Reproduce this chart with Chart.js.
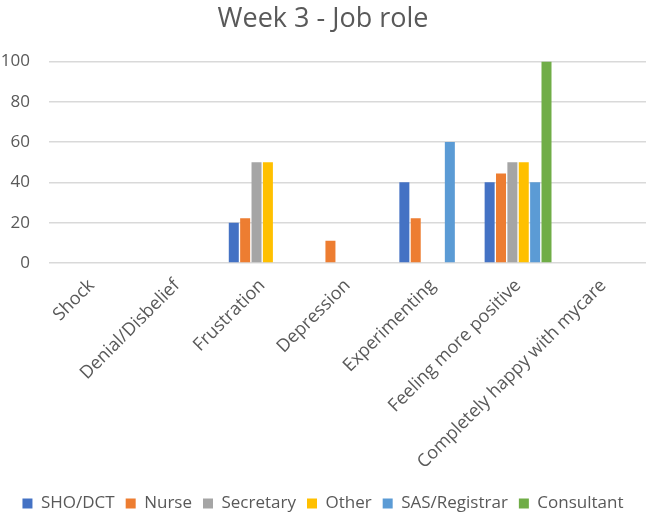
<!DOCTYPE html>
<html>
<head>
<meta charset="utf-8">
<script src="https://cdn.jsdelivr.net/npm/chart.js@4/dist/chart.umd.min.js"></script>
<style>
  html, body { margin: 0; padding: 0; background: #fff; }
  #wrap { width: 646px; height: 515px; }
</style>
</head>
<body>
<div id="wrap"><canvas id="jobChart"></canvas></div>
<script>
const categories = ['Shock', 'Denial/Disbelief', 'Frustration', 'Depression', 'Experimenting', 'Feeling more positive', 'Completely happy with mycare'];
const shoDct     = [null, null, 20,   null, 40,   40,   null];
const nurse      = [null, null, 22.2, 11.1, 22.2, 44.4, null];
const secretary  = [null, null, 50,   null, null, 50,   null];
const other      = [null, null, 50,   null, null, 50,   null];
const sasReg     = [null, null, null, null, 60,   40,   null];
const consultant = [null, null, null, null, null, 100,  null];
const yTicks = [0, 20, 40, 60, 80, 100];

const textColor = '#595959';
const font = 'Open Sans';

function ds(label, data, color) {
    return { label: label, data: data, backgroundColor: color, categoryPercentage: 0.8, barPercentage: 0.88 };
}

const ctx = document.getElementById('jobChart').getContext('2d');
const chart = new Chart(ctx, {
    type: 'bar',
    data: {
        labels: categories,
        datasets: [
            ds('SHO/DCT', shoDct, '#4472c4'),
            ds('Nurse', nurse, '#ed7d31'),
            ds('Secretary', secretary, '#a5a5a5'),
            ds('Other', other, '#ffc000'),
            ds('SAS/Registrar', sasReg, '#5b9bd5'),
            ds('Consultant', consultant, '#70ad47')
        ]
    },
    options: {
        responsive: true,
        maintainAspectRatio: false,
        animation: false,
        // legend sits low in the original, so let its bottom padding spill past the edge
        layout: { padding: { left: 0, right: 0, top: 0, bottom: -7 } },
        plugins: {
            title: {
                display: true,
                text: 'Week 3 - Job role',
                color: textColor,
                font: { family: font, size: 27, weight: 'normal' },
                padding: { top: 3, bottom: 26 }
            },
            legend: {
                position: 'bottom',
                labels: {
                    color: textColor,
                    font: { family: font, size: 17 },
                    boxWidth: 10,
                    boxHeight: 10,
                    padding: 11
                }
            },
            tooltip: { enabled: false }
        },
        scales: {
            x: {
                grid: { display: false },
                border: { display: false },
                // rotated labels ask for side padding; the original plot runs edge to edge
                afterFit: s => { s.paddingLeft = 0; s.paddingRight = 0; s.height += 7; },
                ticks: {
                    color: textColor,
                    font: { family: font, size: 18 },
                    minRotation: 45,
                    maxRotation: 45,
                    padding: 4
                }
            },
            y: {
                min: 0,
                max: 100,
                afterBuildTicks: axis => { axis.ticks = yTicks.map(v => ({ value: v })); },
                afterFit: axis => { axis.width = 49; },
                grid: { color: '#d9d9d9', lineWidth: 1.5, drawTicks: false },
                border: { display: false },
                ticks: {
                    color: textColor,
                    font: { family: font, size: 17 },
                    padding: 19
                }
            }
        }
    }
});
</script>
</body>
</html>
